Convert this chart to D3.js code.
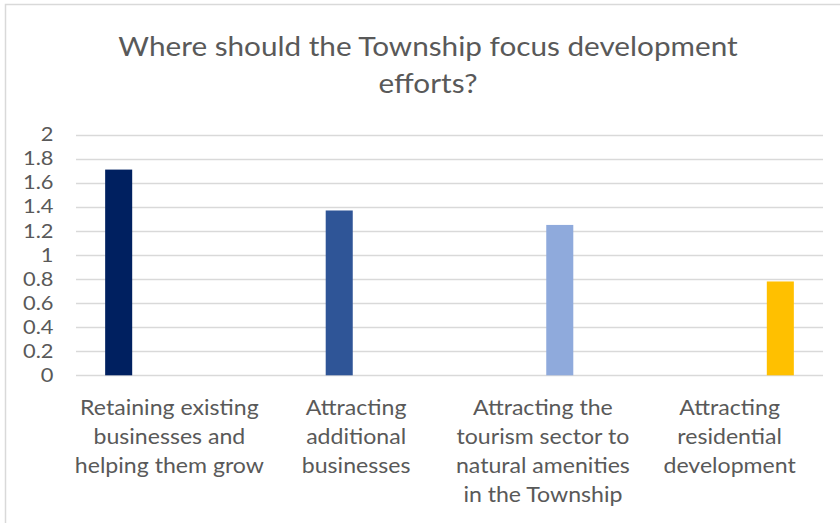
<!DOCTYPE html>
<html>
<head>
<meta charset="utf-8">
<script src="https://cdn.jsdelivr.net/npm/d3@7"></script>
<style>
  html, body { margin: 0; padding: 0; background: #fff; }
  svg { display: block; }
  text { font-family: Lato, "Open Sans", sans-serif; fill: #595959; }
</style>
</head>
<body>
<svg id="chart" width="840" height="523"></svg>
<script>
// Survey results: average rating per development focus area
const categories = [
  "Retaining existing businesses and helping them grow",
  "Attracting additional businesses",
  "Attracting the tourism sector to natural amenities in the Township",
  "Attracting residential development"
];
const categoryLines = [
  ["Retaining existing", "businesses and", "helping them grow"],
  ["Attracting", "additional", "businesses"],
  ["Attracting the", "tourism sector to", "natural amenities", "in the Township"],
  ["Attracting", "residential", "development"]
];
const values = [1.71, 1.37, 1.25, 0.78];
const barColors = ["#002060", "#2F5597", "#8FAADC", "#FFC000"];
const yTicks = [0, 0.2, 0.4, 0.6, 0.8, 1, 1.2, 1.4, 1.6, 1.8, 2];
const titleLines = ["Where should the Township focus development", "efforts?"];

const svg = d3.select("#chart");
const W = 840, H = 523;
const plot = { left: 76, right: 823, top: 134.7, bottom: 375.3 };
// Slightly widened lettering for all chart text
const textStretch = { title: 1.1, category: 1.1, tick: 1.15 };

// Chart frame
svg.append("rect")
  .attr("x", 5.5).attr("y", 4.5)
  .attr("width", W + 10).attr("height", H + 10)
  .attr("fill", "#fff")
  .attr("stroke", "#d9d9d9").attr("stroke-width", 1.5);

// Title
svg.append("g")
  .attr("transform", `translate(428,56) scale(${textStretch.title},1)`)
  .append("text")
  .attr("text-anchor", "middle")
  .style("font-size", "27px")
  .selectAll("tspan")
  .data(titleLines)
  .join("tspan")
  .attr("x", 0)
  .attr("dy", (d, i) => i === 0 ? 0 : 37)
  .text(d => d);

const y = d3.scaleLinear().domain([0, 2]).range([plot.bottom, plot.top]);

// Each category holds one column slot per series; each series has a value only in its own category
const x0 = d3.scaleBand()
  .domain(categories)
  .range([plot.left, plot.right])
  .paddingInner(0.276)
  .paddingOuter(0.138);
const x1 = d3.scaleBand()
  .domain(d3.range(categories.length))
  .range([0, x0.bandwidth()])
  .paddingInner(0.2)
  .paddingOuter(0.1);

// Gridlines
svg.append("g")
  .selectAll("line")
  .data(yTicks)
  .join("line")
  .attr("x1", plot.left).attr("x2", plot.right)
  .attr("y1", d => Math.round(y(d)) + 0.5)
  .attr("y2", d => Math.round(y(d)) + 0.5)
  .attr("stroke", "#d9d9d9")
  .attr("stroke-width", 1.3);

// Y axis labels
const yAxis = d3.axisLeft(y).tickValues(yTicks).tickSize(0).tickPadding(0).tickFormat(d3.format("~g"));
const yg = svg.append("g").attr("transform", `translate(53.5,0)`).call(yAxis);
yg.select(".domain").remove();
yg.selectAll("text")
  .attr("transform", `scale(${textStretch.tick},1)`)
  .style("font-size", "19px")
  .style("font-family", "Lato, 'Open Sans', sans-serif")
  .attr("fill", "#595959");

// Bars
svg.append("g")
  .selectAll("rect")
  .data(values)
  .join("rect")
  .attr("x", (d, i) => x0(categories[i]) + x1(i))
  .attr("width", x1.bandwidth())
  .attr("y", d => y(d))
  .attr("height", d => y(0) - y(d))
  .attr("fill", (d, i) => barColors[i]);

// Category labels
const xg = svg.append("g");
categories.forEach((c, i) => {
  const cx = x0(c) + x0.bandwidth() / 2;
  xg.append("g")
    .attr("transform", `translate(${cx},415) scale(${textStretch.category},1)`)
    .append("text")
    .attr("text-anchor", "middle")
    .style("font-size", "21px")
    .selectAll("tspan")
    .data(categoryLines[i])
    .join("tspan")
    .attr("x", 0)
    .attr("dy", (d, j) => j === 0 ? 0 : 29)
    .text(d => d);
});
</script>
</body>
</html>
